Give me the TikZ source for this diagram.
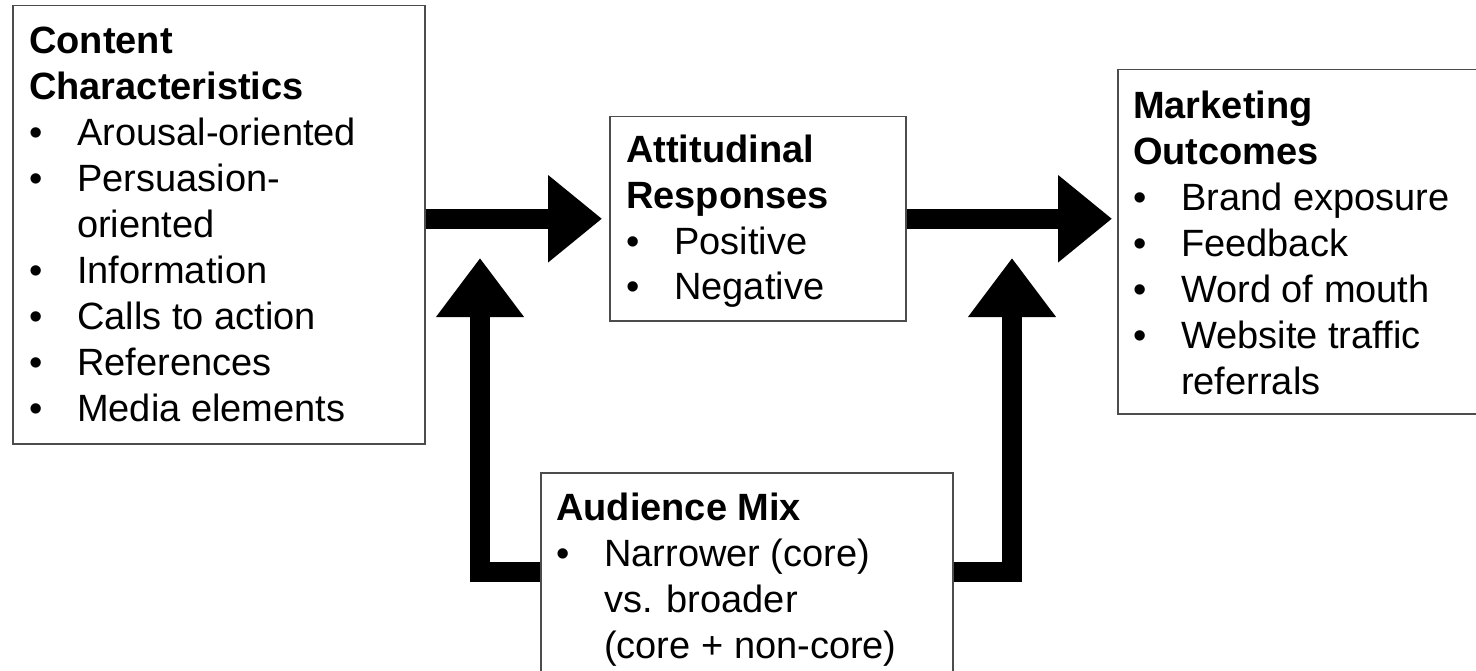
\documentclass[tikz,border=0pt]{standalone}
\usepackage{fontspec}
\setmainfont{Liberation Sans}
\usetikzlibrary{arrows.meta}
\tikzset{
	box_style/.style = {shape=rectangle, draw=black!70, line width=1.5pt, inner sep=0pt, anchor=north west},
	list_style/.style = {align=left, inner sep=0pt, anchor=base west, font=\fontsize{38}{46}\selectfont},
	fat_arrow/.style = {line width=20pt, line join=miter, -{Triangle[width=84pt,length=#1]}},
	fat_arrow/.default = 54pt
}
\newcommand{\itm}{\makebox[48pt][l]{\textbullet}}
\newcommand{\ind}{\hspace*{48pt}}

\begin{document}
\begin{tikzpicture}[x=1pt, y=-1pt]
	\useasboundingbox (0,0) rectangle (1476,671);
	\fill[white] (0,0) rectangle (1476,671);

	% boxes
	\node[box_style, minimum width=412pt, minimum height=438pt] (content) at (12,5) {};
	\node[box_style, minimum width=296pt, minimum height=204pt] (attitude) at (609,116) {};
	\node[box_style, minimum width=372pt, minimum height=344pt] (outcomes) at (1117,69) {};
	\node[box_style, minimum width=412pt, minimum height=240pt] (audience) at (540,472) {};

	% texts (placed at the baseline of their last line)
	\node[list_style] (content_text) at (29,421) {\textbf{Content}\\\textbf{Characteristics}\\
		\itm Arousal-oriented\\\itm Persuasion-\\\ind oriented\\\itm Information\\
		\itm Calls to action\\\itm References\\\itm Media elements};
	\node[list_style] (attitude_text) at (626,300) {\textbf{Attitudinal}\\\textbf{Responses}\\
		\itm Positive\\\itm Negative};
	\node[list_style] (outcomes_text) at (1133,394) {\textbf{Marketing}\\\textbf{Outcomes}\\
		\itm Brand exposure\\\itm Feedback\\\itm Word of mouth\\\itm Website traffic\\\ind referrals};
	\node[list_style] (audience_text) at (556,658) {\textbf{Audience Mix}\\
		\itm Narrower (core)\\\ind vs. broader\\\ind (core + non-core)};

	% arrow tips below the top row
	\coordinate (left_tip) at (480,258);
	\coordinate (right_tip) at (1012,258);

	\draw[fat_arrow] (content.east |- attitude.west) -- ([xshift=-7pt]attitude.west);
	\draw[fat_arrow] (attitude.east) -- ([xshift=-5pt]outcomes.west |- attitude.east);
	\draw[fat_arrow=59pt] (audience.west |- 0,572) -| (left_tip);
	\draw[fat_arrow=59pt] (audience.east |- 0,572) -| (right_tip);
\end{tikzpicture}
\end{document}
